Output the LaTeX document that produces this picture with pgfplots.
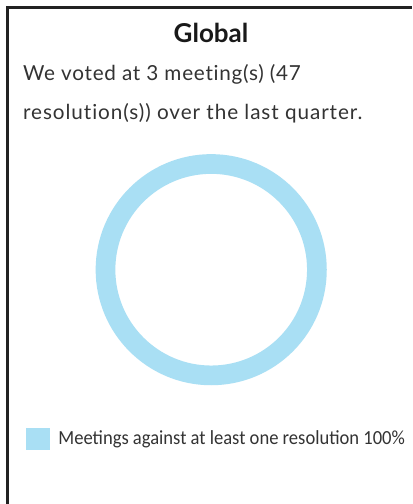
\documentclass[border=0pt]{standalone}
\usepackage{fontspec}
\setmainfont{Lato}[Ligatures=NoCommon]
\newfontfamily\legfont{Carlito}[FakeStretch=0.929]
\usepackage{pgfplots}
\usepackage{pgfplotstable}
\pgfplotsset{compat=1.18}
\definecolor{ringblue}{HTML}{A9DFF4}
\definecolor{framegray}{HTML}{222222}
\definecolor{txt}{HTML}{333333}
\pgfplotstableread{
label value
Against 100
}\ringdata
\begin{document}
\begin{tikzpicture}[x=1bp,y=1bp]
\fill[white] (0,0) rectangle (412,504);
\draw[framegray, line width=3bp, line join=miter] (7.5,0) -- (7.5,496.5) -- (412,496.5);
\node[anchor=base, inner sep=0pt, text=black!90] at (211,461) {\bfseries\fontsize{26bp}{30bp}\selectfont Global};
\node[anchor=base west, inner sep=0pt, text=txt] at (23,423) {\fontsize{20.7bp}{24bp}\selectfont\addfontfeature{LetterSpace=3.6}We voted at 3 meeting(s) (47};
\node[anchor=base west, inner sep=0pt, text=txt] at (23,384) {\fontsize{20.7bp}{24bp}\selectfont\addfontfeature{LetterSpace=4.5}resolution(s)) over the last quarter.};
\begin{axis}[
  x=1bp, y=1bp,
  xmin=-120, xmax=120, ymin=-120, ymax=120,
  hide axis, clip=false,
  at={(211.2bp,234.3bp)}, anchor=center,
  legend style={at={(axis description cs:-0.2717,-0.2033)}, anchor=west,
    draw=none, fill=none, inner sep=0pt, outer sep=0pt, column sep=7bp,
    font=\legfont\fontsize{20bp}{24bp}\selectfont, text=txt},
  legend cell align=left,
]
\addplot[forget plot, only marks, mark=o, mark size=105.7bp,
  mark options={draw=ringblue, line width=19.7bp}]
  table[x expr=0, y expr=0] {\ringdata};
\addlegendimage{legend image code/.code={\fill[ringblue] (0bp,-10.5bp) rectangle (23bp,10.5bp);}}
\addlegendentry{Meetings against at least one resolution 100\%}
\end{axis}
\pgfresetboundingbox
\useasboundingbox (0,0) rectangle (412,504);
\end{tikzpicture}
\end{document}
